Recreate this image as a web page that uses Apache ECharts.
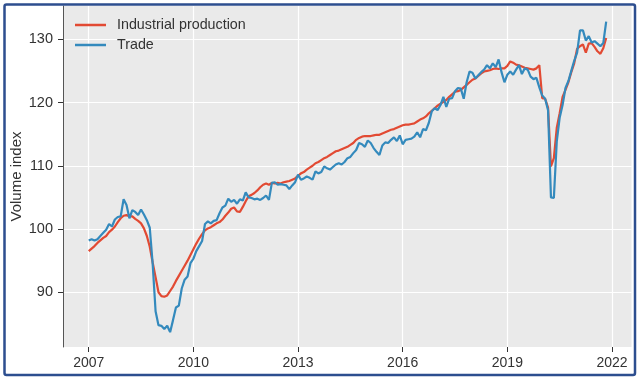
<!DOCTYPE html>
<html><head><meta charset="utf-8">
<script src="https://cdn.jsdelivr.net/npm/echarts@6/dist/echarts.min.js"></script>
<style>html,body{margin:0;padding:0;background:#fff}#c{width:640px;height:380px}</style>
</head><body><div id="c"></div>
<script>
// Monthly data, first observation January 2007
const startYear = 2007;
const seriesNames = ['Industrial production', 'Trade'];
const industrial = [
  96.5, 96.9, 97.3, 97.8, 98.2, 98.6, 98.9, 99.5, 99.9, 100.4, 101.1, 101.7,
  102.1, 102.2, 102.0, 102.0, 101.6, 101.3, 100.9, 100.1, 98.9, 97.2, 94.7, 92.4,
  90.0, 89.4, 89.3, 89.5, 90.2, 90.9, 91.8, 92.6, 93.4, 94.2, 95.0, 95.9,
  96.8, 97.7, 98.5, 99.2, 99.8, 100.1, 100.3, 100.6, 100.9, 101.1, 101.5, 102.1,
  102.6, 103.2, 103.4, 102.8, 102.7, 103.5, 104.4, 105.2, 105.4, 105.7, 106.1, 106.6,
  107.0, 107.2, 107.0, 107.3, 107.2, 107.3, 107.2, 107.4, 107.5, 107.6, 107.8, 108.0,
  108.4, 108.8, 109.0, 109.4, 109.7, 110.0, 110.4, 110.6, 110.9, 111.2, 111.4, 111.7,
  112.0, 112.3, 112.4, 112.6, 112.8, 113.0, 113.3, 113.6, 114.1, 114.4, 114.6, 114.7,
  114.7, 114.7, 114.8, 114.9, 114.9, 115.1, 115.3, 115.5, 115.7, 115.8, 116.0, 116.2,
  116.4, 116.5, 116.5, 116.6, 116.7, 117.0, 117.3, 117.5, 117.8, 118.3, 118.7, 119.1,
  119.5, 119.8, 120.1, 120.4, 120.9, 121.3, 121.7, 121.8, 122.0, 122.4, 122.8, 123.2,
  123.6, 123.8, 124.2, 124.6, 124.9, 125.0, 125.1, 125.3, 125.4, 125.3, 125.4, 125.4,
  125.8, 126.5, 126.3, 126.0, 125.9, 125.7, 125.5, 125.4, 125.3, 125.2, 125.4, 125.9,
  120.7, 120.6, 119.2, 109.9, 111.2, 116.0, 118.3, 120.9, 122.0, 123.2, 124.8, 126.2,
  128.5, 128.9, 129.2, 127.9, 129.3, 129.4, 128.8, 128.1, 127.7, 128.6, 130.2
];
const trade = [
  98.2, 98.4, 98.2, 98.4, 98.9, 99.4, 99.9, 100.8, 100.4, 101.5, 101.9, 102.0,
  104.7, 103.8, 101.7, 103.0, 102.7, 102.2, 103.1, 102.3, 101.4, 100.2, 94.5, 87.0,
  84.8, 84.7, 84.2, 84.7, 83.7, 85.6, 87.6, 87.9, 90.6, 92.0, 92.5, 94.6,
  95.3, 96.5, 97.3, 98.1, 100.8, 101.2, 100.9, 101.3, 101.4, 102.5, 103.4, 103.7,
  104.8, 104.3, 104.6, 104.0, 104.7, 104.5, 105.8, 105.0, 104.9, 104.7, 104.8, 104.6,
  104.9, 105.3, 104.6, 107.3, 107.4, 107.0, 107.1, 107.0, 106.9, 106.3, 106.9, 107.4,
  108.6, 107.8, 108.0, 108.3, 108.1, 107.8, 109.1, 108.8, 109.0, 109.9, 109.6, 109.4,
  109.8, 110.2, 110.4, 110.2, 110.6, 111.2, 111.4, 112.0, 112.5, 113.6, 113.4, 113.0,
  114.0, 113.6, 112.8, 112.2, 111.7, 113.2, 113.7, 113.6, 114.1, 114.5, 113.9, 114.8,
  113.4, 114.1, 114.2, 114.3, 114.6, 115.3, 114.5, 115.8, 115.6, 116.8, 118.6, 119.1,
  118.8, 119.6, 120.9, 119.3, 120.6, 120.7, 121.8, 122.3, 122.2, 120.6, 123.2, 124.9,
  124.7, 123.8, 124.3, 124.8, 125.2, 125.9, 125.4, 126.2, 125.6, 126.8, 124.8, 123.2,
  124.4, 124.9, 124.4, 125.2, 125.9, 124.5, 125.4, 125.2, 124.1, 123.7, 123.9, 122.4,
  121.1, 120.6, 118.8, 105.0, 104.9, 113.8, 117.6, 119.6, 122.3, 123.4, 125.0, 126.6,
  127.9, 131.4, 131.4, 129.8, 130.5, 129.5, 129.7, 129.3, 128.9, 129.4, 132.8
];
const xTicks = [2007, 2010, 2013, 2016, 2019, 2022];
const yTicks = [90, 100, 110, 120, 130];
const yName = 'Volume index';

const toPairs = arr => arr.map((v, i) => [startYear + i / 12, v]);
const font = '"Liberation Sans", Arial, sans-serif';
const txt = '#333333';

const chart = echarts.init(document.getElementById('c'), null, {renderer: 'canvas'});
chart.setOption({
  animation: false,
  backgroundColor: '#ffffff',
  textStyle: {fontFamily: font},
  grid: {left: 63, right: 8.5, top: 6, bottom: 33, show: true, outerBoundsMode: 'none',
         backgroundColor: '#EAEAEA', borderWidth: 0, containLabel: false},
  legend: {
    data: seriesNames, orient: 'vertical', left: 70, top: 10, padding: 5,
    icon: 'rect', itemWidth: 31, itemHeight: 2.5, itemGap: 0,
    textStyle: {fontSize: 14.3, lineHeight: 20, color: txt, fontFamily: font, padding: [0, 0, 0, 6]}
  },
  xAxis: {
    type: 'value', min: 2006.263, max: 2022.559,
    axisLine: {show: false},
    axisTick: {show: true, length: 5, customValues: xTicks, lineStyle: {color: '#333', width: 1}},
    axisLabel: {customValues: xTicks, formatter: v => String(Math.round(v)),
                fontSize: 14, color: txt, margin: 9, fontFamily: font},
    splitLine: {show: true, lineStyle: {color: '#ffffff', width: 1.2}}
  },
  yAxis: {
    type: 'value', min: 81.35, max: 135.26,
    name: yName, nameLocation: 'middle', nameGap: 39, nameMoveOverlap: false,
    nameTextStyle: {fontSize: 15, color: txt, fontFamily: font},
    axisLine: {show: true, lineStyle: {color: '#555555', width: 1}},
    axisTick: {show: true, length: 5, customValues: yTicks, lineStyle: {color: '#333', width: 1}},
    axisLabel: {customValues: yTicks, fontSize: 14.5, color: txt, margin: 10, fontFamily: font},
    splitLine: {show: true, lineStyle: {color: '#ffffff', width: 1.2}}
  },
  series: [
    {name: seriesNames[0], type: 'line', data: toPairs(industrial), symbol: 'none',
     lineStyle: {color: '#E24A33', width: 2.2}, itemStyle: {color: '#E24A33'}},
    {name: seriesNames[1], type: 'line', data: toPairs(trade), symbol: 'none',
     lineStyle: {color: '#348ABD', width: 2.2}, itemStyle: {color: '#348ABD'}}
  ],
  graphic: [{type: 'rect', z: 100, silent: true,
    shape: {x: 4.5, y: 4.5, width: 630.5, height: 370.5, r: 2},
    style: {fill: 'none', stroke: '#2D4E8F', lineWidth: 2.5}}]
});
</script></body></html>
